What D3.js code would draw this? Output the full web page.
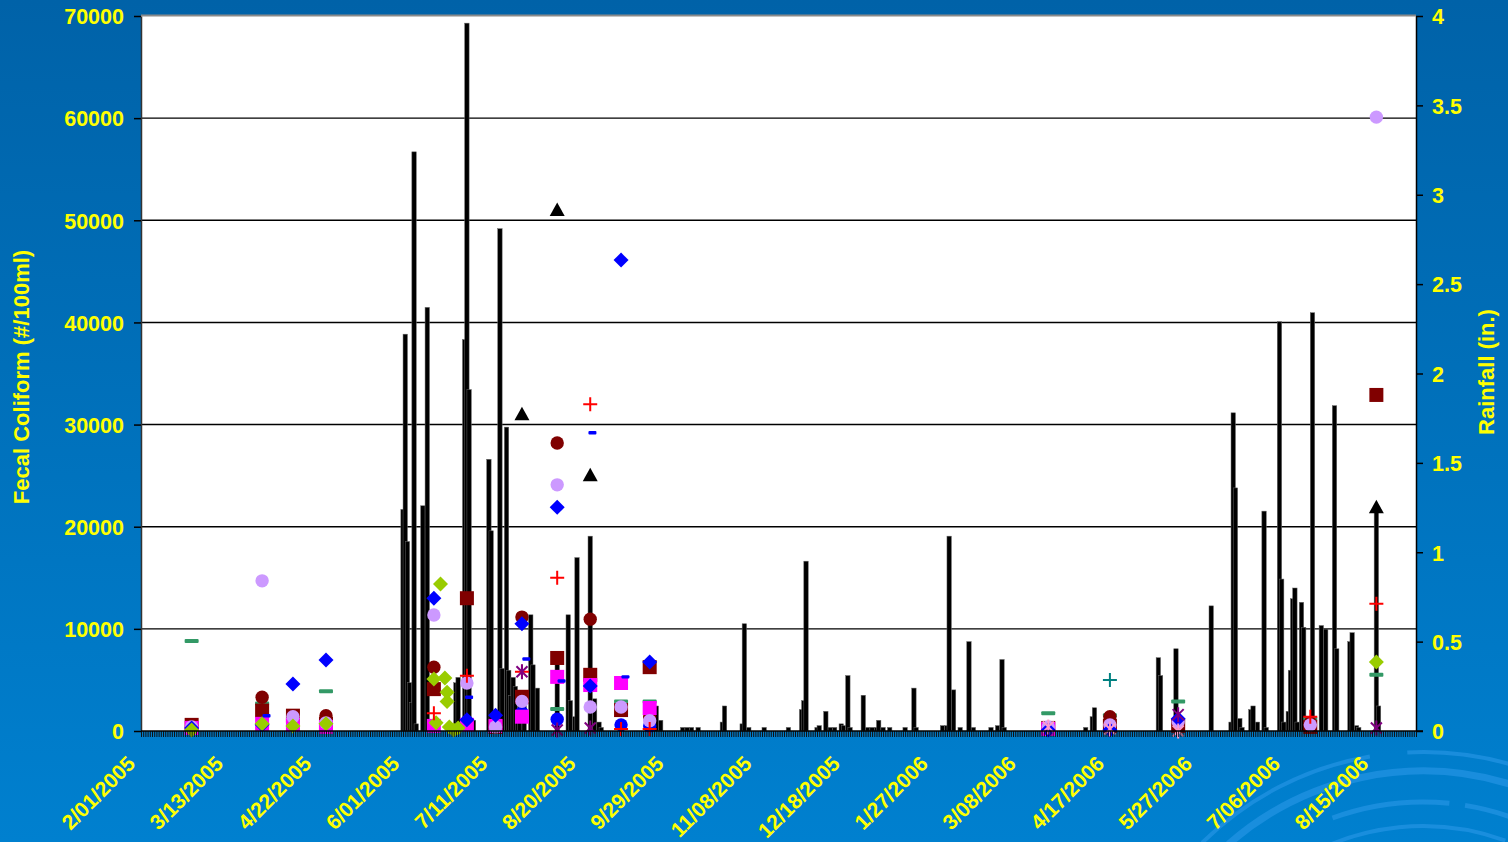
<!DOCTYPE html>
<html><head><meta charset="utf-8">
<script src="https://cdn.jsdelivr.net/npm/d3@7/dist/d3.min.js"></script>
<style>html,body{margin:0;padding:0;overflow:hidden;background:#006bb3}svg{display:block}</style>
</head><body>
<svg id="chart" width="1508" height="842"></svg>
<script>
// ---------------- DATA ----------------
const xTickLabels = ["2/01/2005","3/13/2005","4/22/2005","6/01/2005","7/11/2005","8/20/2005","9/29/2005","11/08/2005","12/18/2005","1/27/2006","3/08/2006","4/17/2006","5/27/2006","7/06/2006","8/15/2006"];
const leftTicks = [0,10000,20000,30000,40000,50000,60000,70000];
const rightTicks = [0,0.5,1,1.5,2,2.5,3,3.5,4];
const leftTitle = "Fecal Coliform (#/100ml)";
const rightTitle = "Rainfall (in.)";

// daily rainfall, inches
const rainfall = [
 ["2005-05-31",1.24],["2005-06-01",2.22],["2005-06-02",1.06],["2005-06-03",0.27],["2005-06-04",0.16],["2005-06-05",3.24],["2005-06-06",0.04],
 ["2005-06-09",1.26],["2005-06-11",2.37],["2005-06-12",0.03],["2005-06-24",0.27],["2005-06-25",0.30],
 ["2005-06-28",2.19],["2005-06-29",3.96],["2005-06-30",1.91],["2005-07-01",0.07],["2005-07-02",0.06],
 ["2005-07-09",1.52],["2005-07-10",1.12],["2005-07-14",2.81],["2005-07-15",0.35],["2005-07-17",1.70],["2005-07-18",0.34],
 ["2005-07-19",0.20],["2005-07-20",0.30],["2005-07-21",0.25],["2005-07-22",0.10],["2005-07-23",0.22],["2005-07-25",0.18],
 ["2005-07-28",0.65],["2005-07-29",0.37],["2005-07-31",0.24],["2005-08-09",0.40],["2005-08-14",0.65],["2005-08-15",0.17],
 ["2005-08-17",0.08],["2005-08-18",0.97],["2005-08-24",1.09],["2005-08-26",0.18],["2005-08-28",0.05],["2005-08-29",0.02],
 ["2005-09-23",0.14],["2005-09-25",0.06],["2005-10-05",0.02],["2005-10-07",0.02],["2005-10-09",0.02],["2005-10-12",0.02],
 ["2005-10-23",0.05],["2005-10-24",0.14],["2005-11-01",0.04],["2005-11-02",0.60],["2005-11-04",0.02],["2005-11-11",0.02],
 ["2005-11-22",0.02],["2005-11-28",0.12],["2005-11-29",0.17],["2005-11-30",0.95],["2005-12-05",0.02],["2005-12-06",0.03],
 ["2005-12-09",0.11],["2005-12-11",0.02],["2005-12-13",0.02],["2005-12-16",0.04],["2005-12-17",0.03],["2005-12-19",0.31],
 ["2005-12-20",0.02],["2005-12-26",0.20],["2005-12-28",0.02],["2005-12-30",0.02],["2006-01-01",0.02],["2006-01-02",0.06],
 ["2006-01-04",0.02],["2006-01-07",0.02],["2006-01-14",0.02],["2006-01-18",0.24],["2006-01-19",0.02],["2006-01-31",0.03],
 ["2006-02-02",0.03],["2006-02-03",1.09],["2006-02-05",0.23],["2006-02-08",0.02],["2006-02-12",0.50],["2006-02-14",0.02],
 ["2006-02-22",0.02],["2006-02-25",0.03],["2006-02-27",0.40],["2006-02-28",0.02],["2006-04-06",0.02],["2006-04-09",0.08],
 ["2006-04-10",0.13],["2006-05-09",0.41],["2006-05-10",0.31],["2006-05-17",0.46],["2006-06-02",0.70],["2006-06-11",0.05],
 ["2006-06-12",1.78],["2006-06-13",1.36],["2006-06-15",0.07],["2006-06-16",0.02],["2006-06-20",0.12],["2006-06-21",0.14],
 ["2006-06-23",0.05],["2006-06-26",1.23],["2006-06-27",0.02],["2006-07-03",2.29],["2006-07-04",0.85],["2006-07-05",0.05],
 ["2006-07-07",0.11],["2006-07-08",0.34],["2006-07-09",0.74],["2006-07-10",0.80],["2006-07-11",0.05],["2006-07-13",0.72],
 ["2006-07-14",0.58],["2006-07-18",2.34],["2006-07-22",0.59],["2006-07-24",0.57],["2006-07-28",1.82],["2006-07-29",0.46],
 ["2006-08-04",0.50],["2006-08-05",0.55],["2006-08-07",0.03],["2006-08-08",0.02],["2006-08-16",1.24],["2006-08-17",0.14]
];

// fecal coliform samples (#/100ml), one array per sampling site
const greenDash = [["2005-02-24",8800],["2005-03-28",2700],["2005-04-26",3900],["2005-08-09",2150],["2005-09-07",2900],["2005-09-20",2900],["2006-03-20",1750],["2006-04-17",1550],["2006-05-18",2900],["2006-07-17",1200],["2006-08-16",5500]];
const darkRedCircle = [["2005-03-28",3300],["2005-04-26",1500],["2005-06-14",6250],["2005-07-24",11150],["2005-08-09",28200],["2005-08-24",10950],["2005-09-20",1400],["2006-04-17",1400],["2006-07-17",800]];
const darkRedSquare = [["2005-02-24",600],["2005-03-28",2000],["2005-04-11",1500],["2005-04-26",700],["2005-06-14",4100],["2005-06-29",13000],["2005-07-12",400],["2005-07-24",3350],["2005-08-09",7150],["2005-08-24",5500],["2005-09-07",2050],["2005-09-20",6250],["2006-03-20",300],["2006-04-17",500],["2006-05-18",500],["2006-07-17",400],["2006-08-16",32900]];
const blueCircle = [["2005-07-24",1800],["2005-08-09",1150],["2005-09-07",600],["2005-09-20",500]];
const magentaSquare = [["2005-02-24",300],["2005-03-28",700],["2005-04-11",600],["2005-04-26",400],["2005-06-14",500],["2005-06-29",600],["2005-07-12",500],["2005-07-24",1400],["2005-08-09",5300],["2005-08-24",4500],["2005-09-07",4700],["2005-09-20",2250],["2006-03-20",200]];
const lavenderCircle = [["2005-02-24",400],["2005-03-28",14700],["2005-04-11",1400],["2005-04-26",800],["2005-06-14",11350],["2005-06-29",4700],["2005-07-12",400],["2005-07-24",2900],["2005-08-09",24100],["2005-08-24",2350],["2005-09-07",2350],["2005-09-20",1000],["2006-03-20",400],["2006-04-17",600],["2006-05-18",900],["2006-07-17",600],["2006-08-16",60100]];
const blueDiamond = [["2005-02-24",300],["2005-03-28",600],["2005-04-11",4600],["2005-04-26",6950],["2005-06-14",13000],["2005-06-29",1100],["2005-07-12",1550],["2005-07-24",10500],["2005-08-09",21900],["2005-08-24",4400],["2005-09-07",46100],["2005-09-20",6750],["2006-03-20",100],["2006-04-17",100],["2006-05-18",1200]];
const yellowGreenDiamond = [["2005-02-24",100],["2005-03-28",700],["2005-04-11",500],["2005-04-26",700],["2005-06-14",5100],["2005-06-15",800],["2005-06-17",14400],["2005-06-19",5200],["2005-06-20",3800],["2005-06-20",2900],["2005-06-21",400],["2005-06-23",100],["2005-06-25",300],["2006-08-16",6750]];
const redPlus = [["2005-06-14",1750],["2005-06-29",5400],["2005-07-24",5800],["2005-08-09",15000],["2005-08-24",32000],["2005-09-07",200],["2005-09-20",200],["2006-07-17",1400],["2006-08-16",12450]];
const blueDash = [["2005-03-30",1500],["2005-06-30",3300],["2005-07-26",7050],["2005-08-11",4900],["2005-08-25",29200],["2005-09-09",5300]];
const purpleStar = [["2005-07-24",5800],["2005-08-09",100],["2005-08-24",300],["2006-05-18",1600],["2006-08-16",300]];
const pinkX = [["2006-03-20",400],["2006-04-17",200],["2006-05-18",0]];
const tealPlus = [["2006-04-17",5000]];
const blackTriangle = [["2005-07-24",31000],["2005-08-09",51000],["2005-08-24",25050],["2006-08-16",21900]];

// ---------------- CHART ----------------
const W = 1508, H = 842;
const M = {left:141, right:1416, top:16, bottom:731};
const parseD = d3.utcParse("%Y-%m-%d");
const parseTick = d3.utcParse("%m/%d/%Y");
const FONT = "'Liberation Sans', Arial, sans-serif";
const YEL = "#ffff00";

const svg = d3.select("#chart");
const defs = svg.append("defs");
const grad = defs.append("linearGradient").attr("id","bg").attr("x1",0).attr("y1",0).attr("x2",0).attr("y2",1);
grad.append("stop").attr("offset","0%").attr("stop-color","#0062a8");
grad.append("stop").attr("offset","100%").attr("stop-color","#0080cf");
svg.append("rect").attr("width",W).attr("height",H).attr("fill","url(#bg)");

// decorative arcs bottom-right
const deco = svg.append("g").attr("transform","translate(1423,1066)").attr("fill","none").attr("stroke","#2a97e8").attr("stroke-opacity",0.6);
const arcDefs = [[314,4,-0.78,-0.17],[314,4,-0.05,0.40],[295,7,-0.72,0.30],[264,5,-0.35,0.10],[264,5,0.16,0.45],[240,4,-0.55,0.35],[215,4,-0.3,0.4]];
arcDefs.forEach(([r,w,a0,a1])=>{
  deco.append("path").attr("stroke-width",w)
    .attr("d", d3.arc()({innerRadius:r, outerRadius:r, startAngle:a0, endAngle:a1}));
});

const x = d3.scaleUtc().domain([parseD("2005-02-01"), parseD("2006-09-03")]).range([M.left, M.right]);
const yL = d3.scaleLinear().domain([0,70000]).range([M.bottom, M.top]);
const yR = d3.scaleLinear().domain([0,4]).range([M.bottom, M.top]);

// plot area
svg.append("rect").attr("x",M.left).attr("y",M.top).attr("width",M.right-M.left).attr("height",M.bottom-M.top).attr("fill","#fff");
svg.append("line").attr("x1",M.left).attr("x2",M.right).attr("y1",M.top-0.5).attr("y2",M.top-0.5).attr("stroke","#8a8a8a").attr("stroke-width",2);

// gridlines
svg.append("g").selectAll("line").data(leftTicks.filter(d=>d>0 && d<70000)).join("line")
  .attr("x1",M.left).attr("x2",M.right).attr("y1",d=>yL(d)).attr("y2",d=>yL(d))
  .attr("stroke","#000").attr("stroke-width",1.4);

// rainfall bars
const bw = 4.4;
svg.append("g").selectAll("rect").data(rainfall).join("rect")
  .attr("x", d=>x(parseD(d[0]))-bw/2).attr("width",bw)
  .attr("y", d=>yR(d[1])).attr("height", d=>M.bottom-yR(d[1]))
  .attr("fill","#000").attr("stroke","#666").attr("stroke-width",0.5);

// markers
function drawShape(g, shape, color, cx, cy){
  switch(shape){
    case "circle": g.append("circle").attr("cx",cx).attr("cy",cy).attr("r",6.7).attr("fill",color); break;
    case "square": g.append("rect").attr("x",cx-7).attr("y",cy-7).attr("width",14).attr("height",14).attr("fill",color); break;
    case "diamond": g.append("path").attr("d",`M${cx},${cy-7.5}L${cx+7.5},${cy}L${cx},${cy+7.5}L${cx-7.5},${cy}Z`).attr("fill",color); break;
    case "triangle": g.append("path").attr("d",`M${cx},${cy-7.5}L${cx+7.5},${cy+6}L${cx-7.5},${cy+6}Z`).attr("fill",color); break;
    case "plus": g.append("path").attr("d",`M${cx-7},${cy}H${cx+7}M${cx},${cy-7}V${cy+7}`).attr("stroke",color).attr("stroke-width",2).attr("fill","none"); break;
    case "star": g.append("path").attr("d",`M${cx-5.5},${cy-5.5}L${cx+5.5},${cy+5.5}M${cx-5.5},${cy+5.5}L${cx+5.5},${cy-5.5}M${cx},${cy-7.5}V${cy+7.5}`).attr("stroke",color).attr("stroke-width",2).attr("fill","none"); break;
    case "dash": g.append("rect").attr("x",cx-7).attr("y",cy-2).attr("width",14).attr("height",4).attr("rx",1).attr("fill",color); break;
    case "sdash": g.append("rect").attr("x",cx-4).attr("y",cy-1.7).attr("width",8).attr("height",3.4).attr("rx",1).attr("fill",color); break;
  }
}
const seriesList = [
  {data:greenDash, shape:"dash", color:"#339966"},
  {data:darkRedCircle, shape:"circle", color:"#800000"},
  {data:darkRedSquare, shape:"square", color:"#800000"},
  {data:blueCircle, shape:"circle", color:"#0000ff"},
  {data:magentaSquare, shape:"square", color:"#ff00ff"},
  {data:lavenderCircle, shape:"circle", color:"#cc99ff"},
  {data:blueDiamond, shape:"diamond", color:"#0000ff"},
  {data:yellowGreenDiamond, shape:"diamond", color:"#99cc00"},
  {data:redPlus, shape:"plus", color:"#ff0000"},
  {data:blueDash, shape:"sdash", color:"#0000ff"},
  {data:purpleStar, shape:"star", color:"#800080"},
  {data:pinkX, shape:"star", color:"#ff99cc"},
  {data:tealPlus, shape:"plus", color:"#008080"},
  {data:blackTriangle, shape:"triangle", color:"#000000"}
];
const mg = svg.append("g");
seriesList.forEach(s=>{
  const g = mg.append("g");
  s.data.forEach(d=> drawShape(g, s.shape, s.color, x(parseD(d[0])), yL(d[1])));
});

// axes
function styleText(sel){ sel.attr("fill",YEL).style("font-family",FONT).style("font-weight","bold"); }

const axL = svg.append("g").attr("transform",`translate(${M.left},0)`)
  .call(d3.axisLeft(yL).tickValues(leftTicks).tickFormat(d3.format("d")).tickSize(7).tickSizeOuter(0).tickPadding(10));
axL.select(".domain").attr("stroke","#333").attr("stroke-width",1.5);
axL.selectAll(".tick line").attr("stroke","#000").attr("stroke-width",1.5);
axL.selectAll("text").call(styleText).style("font-size","21.5px").attr("dy","0.36em");

const axR = svg.append("g").attr("transform",`translate(${M.right},0)`)
  .call(d3.axisRight(yR).tickValues(rightTicks).tickFormat(d=>String(d)).tickSize(7).tickSizeOuter(0).tickPadding(9));
axR.select(".domain").attr("stroke","#000").attr("stroke-width",1.5);
axR.selectAll(".tick line").attr("stroke","#000").attr("stroke-width",1.5);
axR.selectAll("text").call(styleText).style("font-size","21.5px").attr("dy","0.36em");

// daily minor ticks
const axD = svg.append("g").attr("transform",`translate(0,${M.bottom})`)
  .call(d3.axisBottom(x).ticks(d3.utcDay.every(1)).tickSize(6).tickFormat(""));
axD.select(".domain").remove();
axD.selectAll(".tick line").attr("stroke","#111").attr("stroke-width",1);
svg.append("line").attr("x1",M.left).attr("x2",M.right+7).attr("y1",M.bottom).attr("y2",M.bottom).attr("stroke","#000").attr("stroke-width",1.5);

// date labels
const tickDates = xTickLabels.map(parseTick);
const axB = svg.append("g").attr("transform",`translate(0,${M.bottom})`)
  .call(d3.axisBottom(x).tickValues(tickDates).tickFormat((d,i)=>xTickLabels[i]).tickSize(0));
axB.select(".domain").remove();
axB.selectAll("text").call(styleText).style("font-size","21px")
  .attr("text-anchor","end").attr("x",0).attr("y",0).attr("dy",0)
  .attr("transform","translate(-5,34) rotate(-45)");

// titles
svg.append("text").attr("transform","translate(29,377) rotate(-90)").attr("text-anchor","middle")
  .text(leftTitle).call(styleText).style("font-size","22px");
svg.append("text").attr("transform","translate(1494,372) rotate(-90)").attr("text-anchor","middle")
  .text(rightTitle).call(styleText).style("font-size","22px");
</script>
</body></html>
